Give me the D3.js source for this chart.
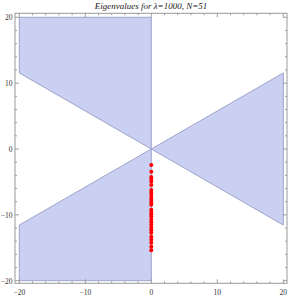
<!DOCTYPE html>
<html>
<head>
<meta charset="utf-8">
<script src="https://cdn.jsdelivr.net/npm/d3@7"></script>
<style>
  body { margin: 0; background: #fff; }
  svg { display: block; }
</style>
</head>
<body>
<div id="chart"></div>
<script>
// Region polygons (data units)
var upperLeft = [[-20, 20], [0, 20], [0, 0], [-20, 11.55]];
var lowerLeft = [[-20, -20], [0, -20], [0, 0], [-20, -11.55]];
var rightWedge = [[0, 0], [20, 11.55], [20, -11.55]];

// Eigenvalues: real and imaginary parts
var eigRe = [0, 0, 0, 0, 0, 0, 0, 0, 0, 0, 0, 0, 0, 0, 0, 0, 0, 0, 0, 0, 0, 0, 0, 0, 0, 0, 0, 0];
var eigIm = [-2.42, -3.44, -4.24, -4.55, -4.92, -5.45, -6.21, -6.59, -6.97, -7.42, -7.73, -8.11, -8.48,
             -9.24, -9.55, -9.92, -10.26, -10.76, -11.14, -11.52, -11.97, -12.35, -12.73, -13.33,
             -13.79, -14.24, -14.85, -15.38];

var majorTicks = [-20, -10, 0, 10, 20];
var minorTicks = d3.range(-20, 21, 2);

var width = 289, height = 298;
var frame = {left: 15, right: 287, top: 13.3, bottom: 283.3};

var x = d3.scaleLinear().domain([-20, 20]).range([19.3, 283.3]);
var y = d3.scaleLinear().domain([-20, 20]).range([280.7, 17.3]);

var svg = d3.select("#chart").append("svg")
  .attr("width", width)
  .attr("height", height);

// title
svg.append("text")
  .attr("x", 151)
  .attr("y", 9)
  .attr("text-anchor", "middle")
  .style("font-family", "'Liberation Serif', 'DejaVu Serif', serif")
  .style("font-style", "italic")
  .style("font-size", "9px")
  .attr("fill", "#222")
  .text("Eigenvalues  for  \u03bb=1000,  N=51");

// regions
var line = d3.line().x(d => x(d[0])).y(d => y(d[1]));
svg.selectAll("path.region")
  .data([upperLeft, lowerLeft, rightWedge])
  .enter().append("path")
  .attr("class", "region")
  .attr("d", d => line(d) + "Z")
  .attr("fill", "#c9d0f2")
  .attr("stroke", "#9ea4c9")
  .attr("stroke-width", 1);

// eigenvalue points
svg.selectAll("circle.eig")
  .data(eigIm.map((v, i) => [eigRe[i], v]))
  .enter().append("circle")
  .attr("class", "eig")
  .attr("cx", d => x(d[0]))
  .attr("cy", d => y(d[1]))
  .attr("r", 2)
  .attr("fill", "#ff0000");

// frame
svg.append("rect")
  .attr("x", frame.left)
  .attr("y", frame.top)
  .attr("width", frame.right - frame.left)
  .attr("height", frame.bottom - frame.top)
  .attr("fill", "none")
  .attr("stroke", "#999")
  .attr("stroke-width", 1);

// ticks (inward, Mathematica style)
var tickColor = "#888";
function tickLen(v) { return majorTicks.indexOf(v) >= 0 ? 4 : 2; }
var ticks = svg.append("g").attr("stroke", tickColor).attr("stroke-width", 0.8);
minorTicks.forEach(function(v) {
  var L = tickLen(v);
  ticks.append("line").attr("x1", x(v)).attr("x2", x(v)).attr("y1", frame.bottom).attr("y2", frame.bottom - L);
  ticks.append("line").attr("x1", x(v)).attr("x2", x(v)).attr("y1", frame.top).attr("y2", frame.top + L);
  ticks.append("line").attr("y1", y(v)).attr("y2", y(v)).attr("x1", frame.left).attr("x2", frame.left + L);
  ticks.append("line").attr("y1", y(v)).attr("y2", y(v)).attr("x1", frame.right).attr("x2", frame.right - L);
});

var fmt = v => v < 0 ? "\u2212" + Math.abs(v) : String(v);
var labelStyle = function(sel) {
  sel.style("font-family", "'Liberation Serif', 'DejaVu Serif', serif")
     .style("font-size", "7.5px")
     .attr("fill", "#333");
};

svg.selectAll("text.xl")
  .data(majorTicks)
  .enter().append("text")
  .attr("class", "xl")
  .attr("x", d => x(d))
  .attr("y", 295)
  .attr("text-anchor", "middle")
  .call(labelStyle)
  .text(fmt);

svg.selectAll("text.yl")
  .data(majorTicks)
  .enter().append("text")
  .attr("class", "yl")
  .attr("x", 12.5)
  .attr("y", d => y(d) + 2.8)
  .attr("text-anchor", "end")
  .call(labelStyle)
  .text(fmt);
</script>
</body>
</html>
